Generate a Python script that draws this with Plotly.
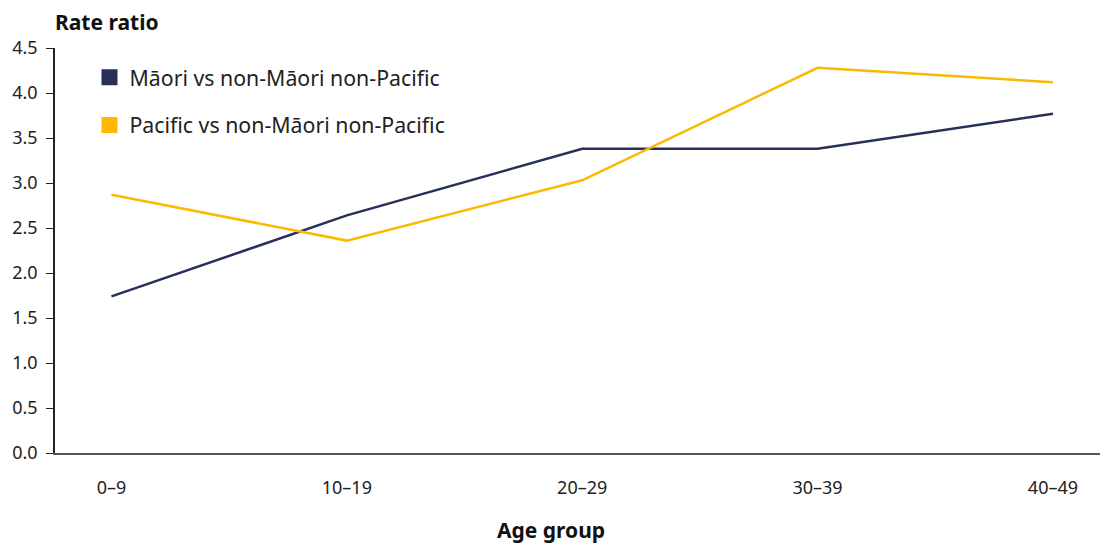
import plotly.graph_objects as go

age_groups = ["0–9", "10–19", "20–29", "30–39", "40–49"]
maori = [1.74, 2.64, 3.38, 3.38, 3.77]
pacific = [2.87, 2.36, 3.03, 4.28, 4.12]
series_names = ["Māori vs non-Māori non-Pacific", "Pacific vs non-Māori non-Pacific"]
y_ticks = [0, 0.5, 1.0, 1.5, 2.0, 2.5, 3.0, 3.5, 4.0, 4.5]

colors = ["#26305a", "#fbb900"]
FONT = "Noto Sans"

fig = go.Figure()
for i, (name, vals) in enumerate(zip(series_names, [maori, pacific])):
    fig.add_trace(go.Scatter(x=list(range(len(age_groups))), y=vals, mode="lines",
                             line=dict(color=colors[i], width=2.5), showlegend=False,
                             hoverinfo="skip"))
for i, name in enumerate(series_names):
    fig.add_trace(go.Scatter(x=[None], y=[None], mode="markers", name=name,
                             legendgroup=f"g{i}",
                             marker=dict(symbol="square", size=18, color=colors[i])))

fig.update_layout(
    width=1100, height=543,
    margin=dict(l=55, r=0, t=48, b=90, autoexpand=False),
    paper_bgcolor="white", plot_bgcolor="white",
    font=dict(family=FONT, size=18, color="#222"),
    legend=dict(x=0.033, y=0.978, xanchor="left", yanchor="top",
                font=dict(size=21.3, color="#222"), tracegroupgap=17,
                itemsizing="trace", bgcolor="rgba(0,0,0,0)"),
    xaxis=dict(range=[-0.24, 4.2], tickmode="array",
               tickvals=list(range(len(age_groups))), ticktext=age_groups,
               showgrid=False, zeroline=False, showline=True, linecolor="#555",
               linewidth=2, ticks="", ticklabelstandoff=17, automargin=False,
               tickfont=dict(size=18, color="#222")),
    yaxis=dict(range=[0, 4.5], tickvals=y_ticks,
               ticktext=[f"{v:.1f}" for v in y_ticks], automargin=False,
               showgrid=False, zeroline=False, showline=True, linecolor="#222",
               linewidth=1.5, ticks="outside", ticklen=7, tickcolor="#222",
               tickwidth=1.2, ticklabelstandoff=5, tickfont=dict(size=18, color="#222")),
    annotations=[
        dict(text="<b>Rate ratio</b>", xref="paper", yref="paper", x=0, y=1,
             xanchor="left", yanchor="bottom", yshift=10, xshift=-2, showarrow=False,
             font=dict(size=21, color="#111")),
        dict(text="<b>Age group</b>", xref="paper", yref="paper", x=0.475, y=0,
             xanchor="center", yanchor="top", yshift=-61, showarrow=False,
             font=dict(size=21, color="#111")),
    ],
)

fig.write_html("out.html", config={"displayModeBar": False},
               post_script="document.body.style.margin='0';document.body.style.overflow='hidden';")
